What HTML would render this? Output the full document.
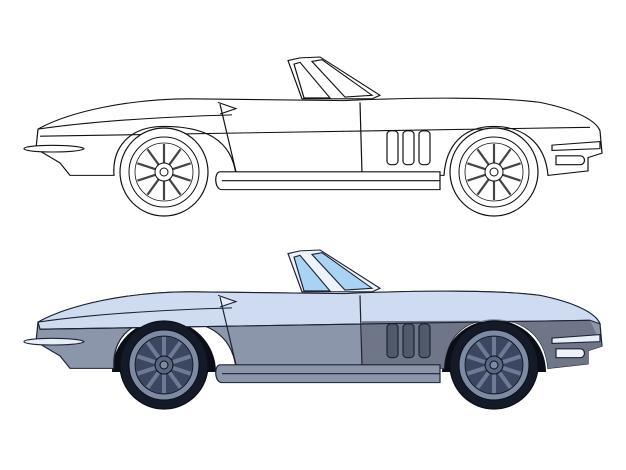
<!DOCTYPE html>
<html><head><meta charset="utf-8"><style>html,body{margin:0;padding:0;background:#fff}svg{display:block}</style></head>
<body>
<svg width="626" height="470" viewBox="0 0 626 470" xmlns="http://www.w3.org/2000/svg">
<defs>
<g id="wheel">
  <circle r="44" fill="var(--tire)" stroke="var(--ln)" stroke-width="1.2"/>
  <circle r="35" fill="var(--rim)" stroke="var(--ln)" stroke-width="1"/>
  <circle r="29" fill="var(--rim2)" stroke="var(--ln)" stroke-width=".8"/>
  <g fill="none" stroke="var(--spk)" stroke-width="var(--sw)">
    <path d="M0,-28 L0,-9 M16.5,-22.7 L5.3,-7.3 M26.6,-8.7 L8.6,-2.8 M26.6,8.7 L8.6,2.8 M16.5,22.7 L5.3,7.3 M0,28 L0,9 M-16.5,22.7 L-5.3,7.3 M-26.6,8.7 L-8.6,2.8 M-26.6,-8.7 L-8.6,-2.8 M-16.5,-22.7 L-5.3,-7.3"/>
  </g>
  <circle r="9" fill="var(--hub)" stroke="var(--ln)"/>
  <circle r="4" fill="var(--hub2)" stroke="var(--ln)"/>
</g>
</defs>

<!-- TOP CAR -->
<g transform="translate(0,6.27) scale(1,0.89)" fill="#fff" stroke="#111" stroke-width="1.2">
  <path d="M288,61 L300,58 L320,57 L380,100 L372,104 L302,104 Z"/>
  <path d="M294,65 L304,103 L330,103 L300,63 Z"/>
  <path d="M312,62 L322,60 L372,100 L345,102 Z"/>
  <path d="M38,138 C70,118 130,104 190,104 L344,106 C420,102 500,102 540,108 C575,116 596,128 600,140 L602,165 L588,170 L588,185 L548,190 C545,150 520,135 494,135 C464,135 446,155 444,190 L236,190 C232,150 205,135 164,135 C128,135 112,160 114,190 L70,190 L60,176 L36,160 Z"/>
  <path d="M38,138 C100,128 170,124 232,122" fill="none"/>
  <path d="M218,108 L236,115 L220,121" fill="none"/>
  <path d="M40,146 L590,136" fill="none"/>
  <path d="M220,110 L236,186 M360,108 L362,188" fill="none"/>
  <rect x="387" y="140" width="11" height="38" rx="4"/>
  <rect x="403" y="140" width="11" height="38" rx="4"/>
  <rect x="419" y="140" width="11" height="38" rx="4"/>
  <path d="M220,186 L440,186 L440,206 L222,206 C214,206 214,186 220,186 Z"/>
  <path d="M222,196 L440,196" fill="none"/>
  <path d="M24,160 C24,155 80,155 84,160 C80,165 24,165 24,160 Z"/>
  <path d="M552,156 L600,152 L600,160 L552,162 Z"/>
  <path d="M556,168 L580,168 C586,168 586,178 580,178 L556,178 Z"/>
</g>
<g style="--tire:#fff;--rim:#fff;--rim2:#fff;--ln:#111;--spk:#444;--sw:2.2;--hub:#fff;--hub2:#fff">
<use href="#wheel" x="164" y="172"/>
<use href="#wheel" x="494" y="172"/>
</g>

<!-- wheel wells (behind body) -->
<path d="M112,372 A52 52 0 0 1 216,372 Z" fill="#0b0e16"/>
<path d="M442,372 A52 52 0 0 1 546,372 Z" fill="#0b0e16"/>

<!-- BOTTOM CAR -->
<g transform="translate(0,199.27) scale(1,0.89)" stroke="#1d2233" stroke-width="1.2">
  <path d="M288,61 L300,58 L320,57 L380,100 L372,104 L302,104 Z" fill="#eef2fa"/>
  <path d="M294,65 L304,103 L330,103 L300,63 Z" fill="#a9d3f2"/>
  <path d="M312,62 L322,60 L372,100 L345,102 Z" fill="#a9d3f2"/>
  <path d="M38,138 C70,118 130,104 190,104 L344,106 C420,102 500,102 540,108 C575,116 596,128 600,140 L602,165 L588,170 L588,185 L548,190 C545,150 520,135 494,135 C464,135 446,155 444,190 L236,190 C232,150 205,135 164,135 C128,135 112,160 114,190 L70,190 L60,176 L36,160 Z" fill="#8c96ab"/>
  <path d="M38,138 C70,118 130,104 190,104 L344,106 C420,102 500,102 540,108 C575,116 596,128 600,140 L590,136 L40,146 Z" fill="#cfdbf1"/>
  <path d="M362,137 L590,136 L602,165 L588,170 L588,185 L548,190 C545,150 520,135 494,135 C464,135 446,155 444,190 L362,190 Z" fill="#6e7688" stroke="none"/>
  <path d="M38,138 C100,128 170,124 232,122" fill="none"/>
  <path d="M218,108 L236,115 L220,121" fill="#e6edf8"/>
  <path d="M40,146 L590,136" fill="none"/>
  <path d="M220,110 L236,186 M360,108 L362,188" fill="none"/>
  <rect x="387" y="140" width="11" height="38" rx="4" fill="#505a6c"/>
  <rect x="403" y="140" width="11" height="38" rx="4" fill="#505a6c"/>
  <rect x="419" y="140" width="11" height="38" rx="4" fill="#505a6c"/>
  <path d="M220,186 L440,186 L440,206 L222,206 C214,206 214,186 220,186 Z" fill="#8d95aa"/>
  <path d="M222,196 L440,196" fill="none"/>
  <path d="M24,160 C24,155 80,155 84,160 C80,165 24,165 24,160 Z" fill="#e8eef8"/>
  <path d="M552,156 L600,152 L600,160 L552,162 Z" fill="#e8eef8"/>
  <path d="M556,168 L580,168 C586,168 586,178 580,178 L556,178 Z" fill="#eef2f8"/>
</g>
<g style="--tire:#151a28;--rim:#7c8aa3;--rim2:#3c4660;--ln:#0b0e16;--spk:#6c7a93;--sw:4;--hub:#5a6680;--hub2:#7e8aa2">
<use href="#wheel" x="164" y="365"/>
<use href="#wheel" x="494" y="365"/>
</g>
</svg>
</body></html>
